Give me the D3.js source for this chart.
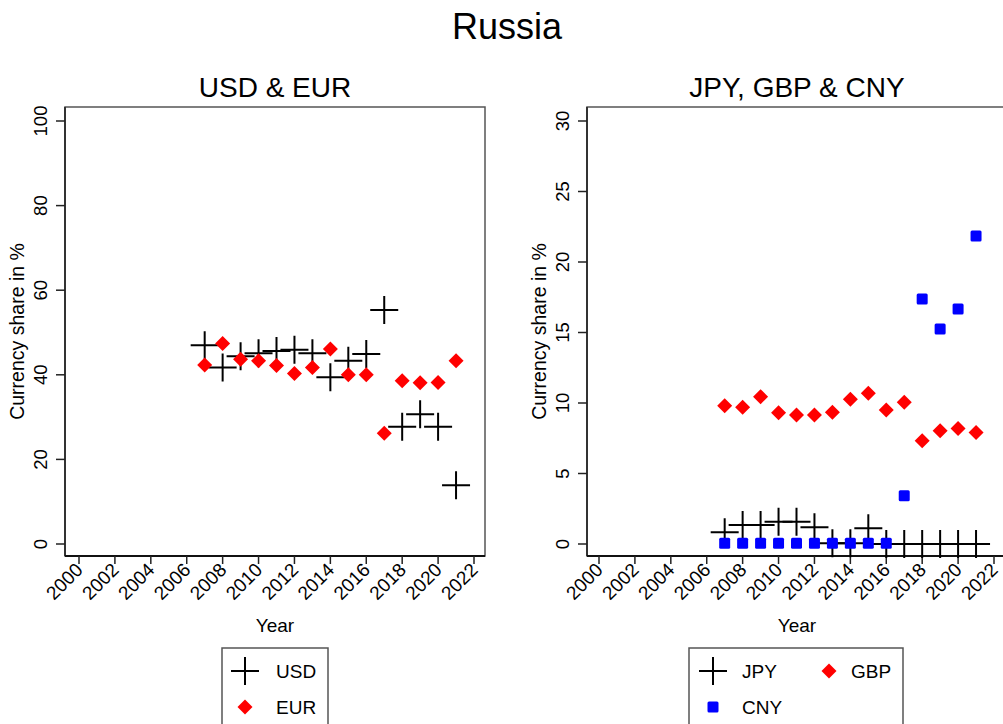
<!DOCTYPE html>
<html>
<head>
<meta charset="utf-8">
<script src="https://cdn.jsdelivr.net/npm/d3@7"></script>
<style>
  html, body { margin: 0; padding: 0; background: #fff; }
  svg { display: block; font-family: "Liberation Sans", Arial, sans-serif; }
</style>
</head>
<body>
<svg id="chart" width="1003" height="724"></svg>
<script>
// ---- data ----
const years = [2007, 2008, 2009, 2010, 2011, 2012, 2013, 2014, 2015, 2016, 2017, 2018, 2019, 2020, 2021];
const usd = [47.0, 41.7, 44.4, 45.1, 45.6, 45.9, 45.1, 39.4, 43.3, 44.9, 55.3, 27.7, 30.7, 27.7, 13.9];
const eur = [42.3, 47.4, 43.7, 43.3, 42.2, 40.3, 41.7, 46.1, 40.0, 40.0, 26.2, 38.6, 38.1, 38.2, 43.3];
const jpy = [0.83, 1.35, 1.35, 1.58, 1.58, 1.18, 0.05, 0.05, 1.11, 0.0, 0.0, 0.0, 0.0, 0.0, 0.0];
const gbp = [9.81, 9.69, 10.45, 9.31, 9.15, 9.15, 9.34, 10.26, 10.69, 9.50, 10.05, 7.33, 8.04, 8.20, 7.90];
const cny = [0.05, 0.05, 0.05, 0.05, 0.05, 0.05, 0.05, 0.05, 0.05, 0.05, 3.43, 17.38, 15.25, 16.67, 21.84];
const xTicks = [2000, 2002, 2004, 2006, 2008, 2010, 2012, 2014, 2016, 2018, 2020, 2022];
const yTicksLeft = [0, 20, 40, 60, 80, 100];
const yTicksRight = [0, 5, 10, 15, 20, 25, 30];

const svg = d3.select("#chart");

svg.append("text").attr("x", 507).attr("y", 39).attr("text-anchor", "middle")
  .attr("font-size", 36).attr("fill", "#000").text("Russia");

const markers = {
  cross: (g, x, y) => {
    g.append("path").attr("d", `M${x-14},${y}H${x+14}M${x},${y-14}V${y+14}`)
      .attr("stroke", "#000").attr("stroke-width", 2).attr("fill", "none");
  },
  diamond: (g, x, y) => {
    g.append("path").attr("d", `M${x},${y-7.5}L${x+7.5},${y}L${x},${y+7.5}L${x-7.5},${y}Z`)
      .attr("fill", "#ff0000");
  },
  square: (g, x, y) => {
    g.append("rect").attr("x", x-5.5).attr("y", y-5.5).attr("width", 11).attr("height", 11)
      .attr("rx", 1.5).attr("fill", "#0000ff");
  }
};

function panel(cfg) {
  const g = svg.append("g");
  const x = d3.scaleLinear().domain([2000, 2022]).range([cfg.x2000, cfg.x2000 + 395]);
  const y = d3.scaleLinear().domain(cfg.yDomain).range([544, 121]);
  const L = cfg.left, R = cfg.left + 420, T = 107, B = 556;

  // subtitle
  g.append("text").attr("x", (L + R) / 2).attr("y", 97).attr("text-anchor", "middle")
    .attr("font-size", 28).attr("fill", "#000").text(cfg.title);

  // frame
  g.append("rect").attr("x", L).attr("y", T).attr("width", R - L).attr("height", B - T)
    .attr("fill", "none").attr("stroke", "#555").attr("stroke-width", 1.5);
  g.append("line").attr("x1", L).attr("x2", L).attr("y1", T).attr("y2", B)
    .attr("stroke", "#333").attr("stroke-width", 2);
  g.append("line").attr("x1", L).attr("x2", R).attr("y1", B).attr("y2", B)
    .attr("stroke", "#111").attr("stroke-width", 2);

  // y axis ticks
  cfg.yTicks.forEach(t => {
    g.append("line").attr("x1", L - 9).attr("x2", L).attr("y1", y(t)).attr("y2", y(t))
      .attr("stroke", "#222").attr("stroke-width", 1.5);
    g.append("text").attr("transform", `translate(${L - 18},${y(t)}) rotate(-90)`)
      .attr("text-anchor", "middle").attr("font-size", 18.5).attr("fill", "#000").text(t);
  });
  g.append("text").attr("transform", `translate(${L - 41},${(T + B) / 2}) rotate(-90)`)
    .attr("text-anchor", "middle").attr("font-size", 19.5).attr("fill", "#000")
    .text("Currency share in %");

  // x axis ticks
  xTicks.forEach(t => {
    g.append("line").attr("x1", x(t)).attr("x2", x(t)).attr("y1", B).attr("y2", B + 8)
      .attr("stroke", "#222").attr("stroke-width", 1.5);
    g.append("text").attr("transform", `translate(${x(t) + 5},${B + 15}) rotate(-45)`)
      .attr("text-anchor", "end").attr("font-size", 19).attr("fill", "#000").text(t);
  });
  g.append("text").attr("x", (L + R) / 2).attr("y", 632).attr("text-anchor", "middle")
    .attr("font-size", 19).attr("fill", "#000").text("Year");

  // data
  cfg.series.forEach(s => {
    years.forEach((yr, i) => markers[s.marker](g, x(yr), y(s.values[i])));
  });

  // legend
  const lg = cfg.legend;
  g.append("rect").attr("x", lg.x).attr("y", 648).attr("width", lg.w).attr("height", 90)
    .attr("fill", "#fff").attr("stroke", "#555").attr("stroke-width", 1.5);
  lg.items.forEach(it => {
    markers[it.marker](g, it.mx, it.my);
    g.append("text").attr("x", it.tx).attr("y", it.my + 6.5).attr("font-size", 19)
      .attr("fill", "#000").text(it.label);
  });
}

panel({
  title: "USD & EUR", left: 65, x2000: 79, yDomain: [0, 100], yTicks: yTicksLeft,
  series: [{ values: usd, marker: "cross" }, { values: eur, marker: "diamond" }],
  legend: { x: 222, w: 106, items: [
    { marker: "cross", mx: 245, my: 671, tx: 276, label: "USD" },
    { marker: "diamond", mx: 245, my: 707, tx: 276, label: "EUR" }
  ]}
});

panel({
  title: "JPY, GBP & CNY", left: 587, x2000: 599, yDomain: [0, 30], yTicks: yTicksRight,
  series: [{ values: gbp, marker: "diamond" }, { values: jpy, marker: "cross" }, { values: cny, marker: "square" }],
  legend: { x: 689, w: 214, items: [
    { marker: "cross", mx: 713, my: 671, tx: 742, label: "JPY" },
    { marker: "diamond", mx: 829, my: 671, tx: 851, label: "GBP" },
    { marker: "square", mx: 713, my: 707, tx: 742, label: "CNY" }
  ]}
});
</script>
</body>
</html>
